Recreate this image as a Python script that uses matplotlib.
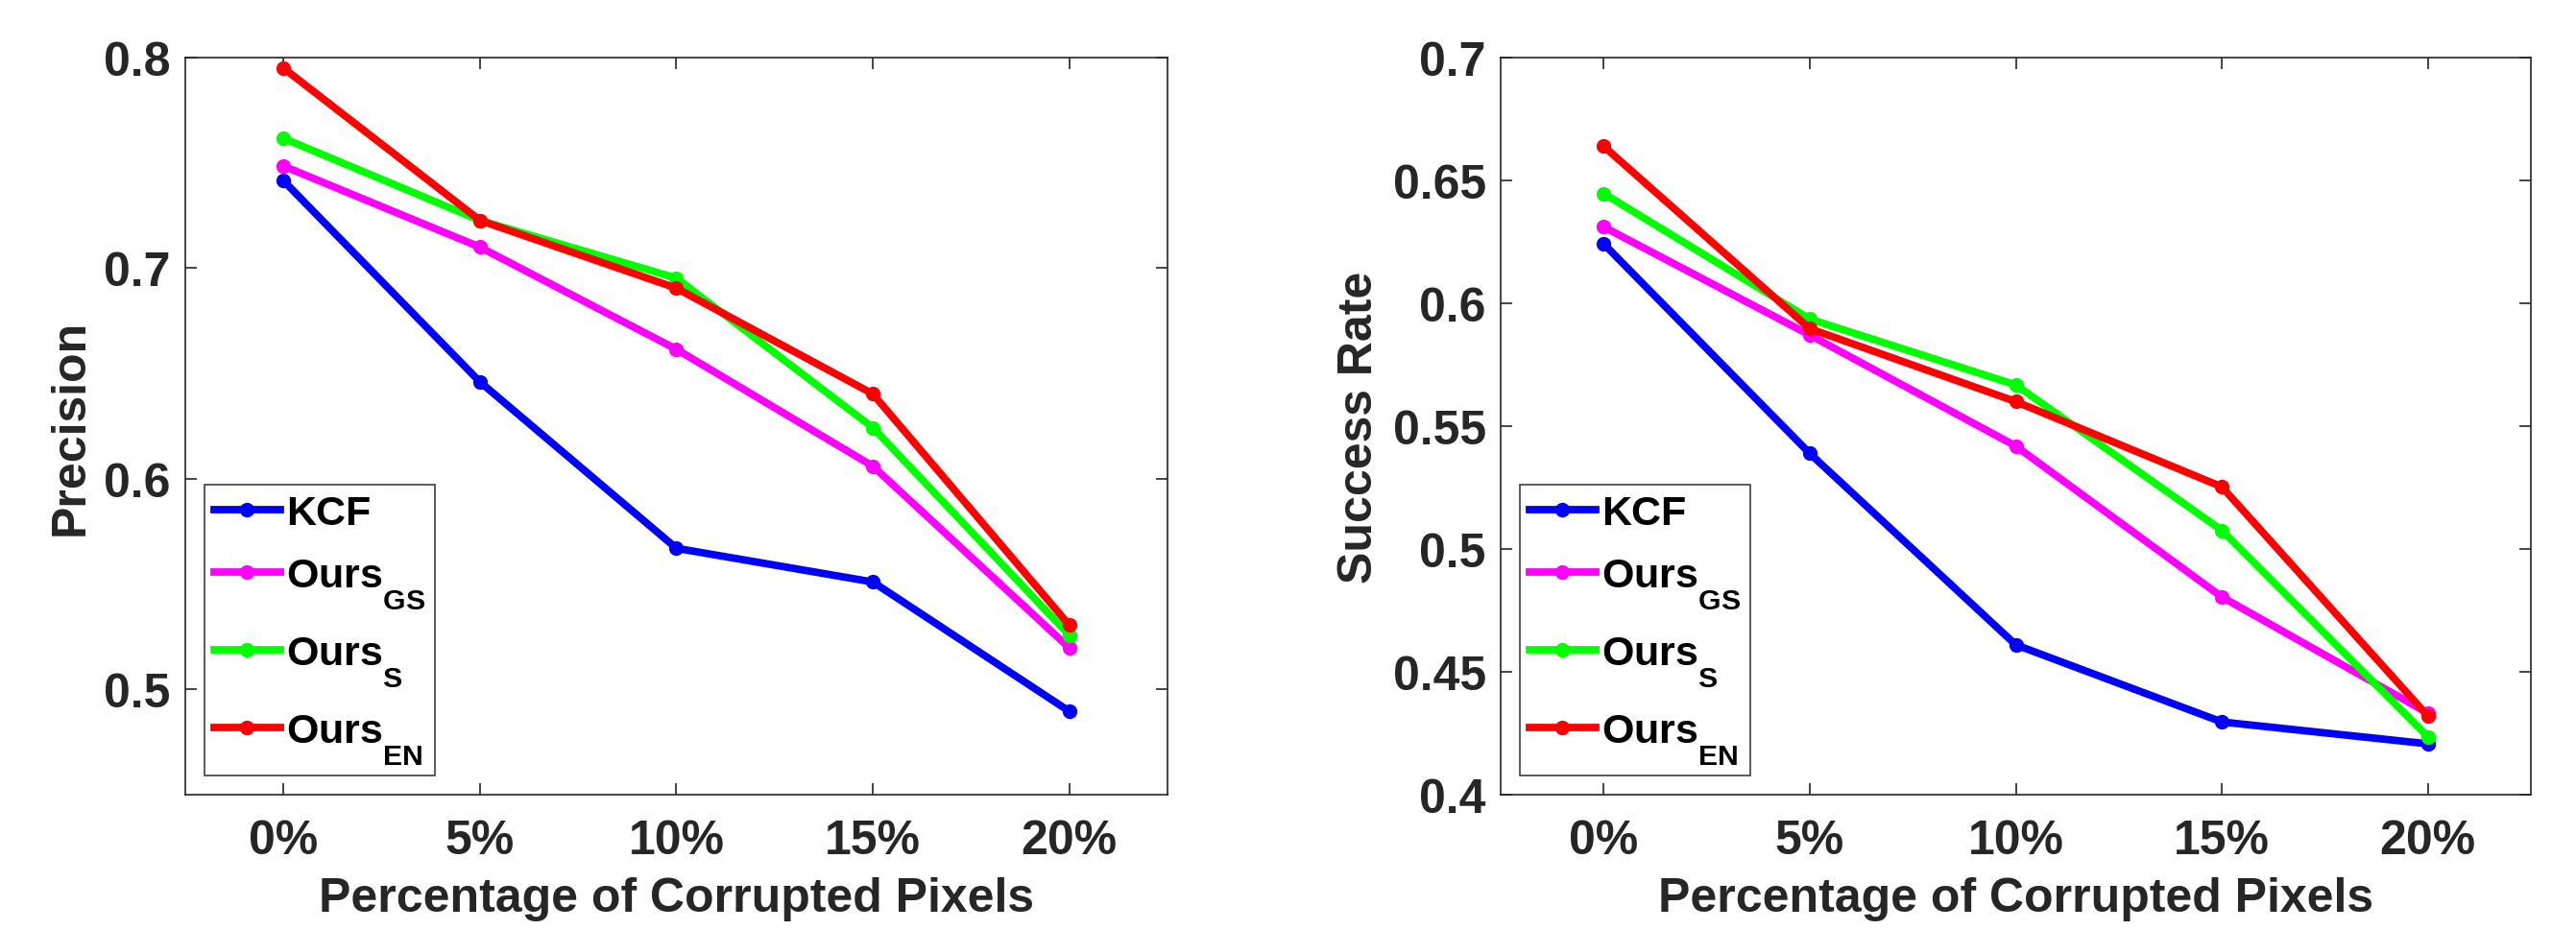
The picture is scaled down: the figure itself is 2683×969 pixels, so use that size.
import matplotlib
matplotlib.use("Agg")
import matplotlib.pyplot as plt

plt.rcParams['font.family'] = ['Liberation Sans', 'DejaVu Sans']
plt.rcParams['font.weight'] = 'bold'
plt.rcParams['mathtext.fontset'] = 'custom'
plt.rcParams['mathtext.rm'] = 'Liberation Sans:bold'
plt.rcParams['mathtext.it'] = 'Liberation Sans:bold'
plt.rcParams['mathtext.bf'] = 'Liberation Sans:bold'

# push subscripts lower (whole subscript below the baseline)
try:
    from matplotlib import _mathtext

    class LowSub(_mathtext.FontConstantsBase):
        sub1 = 1.0

    for fam in ('Liberation Sans', 'DejaVu Sans'):
        _mathtext._font_constant_mapping[fam] = LowSub
except Exception:
    pass

# corruption levels on the x axis
levels = ['0%', '5%', '10%', '15%', '20%']
methods = ['KCF', r'Ours$_{\mathbf{GS}}$', r'Ours$_{\mathbf{S}}$', r'Ours$_{\mathbf{EN}}$']
colors = ['#0000ff', '#ff00ff', '#00ff00', '#ff0000']

# precision per method
prec_kcf = [0.7415, 0.646, 0.567, 0.551, 0.4896]
prec_gs = [0.7485, 0.710, 0.6615, 0.606, 0.5197]
prec_s = [0.7617, 0.7227, 0.6953, 0.6243, 0.5257]
prec_en = [0.795, 0.7227, 0.6905, 0.6403, 0.5305]

# success rate per method
succ_kcf = [0.6242, 0.5389, 0.461, 0.4296, 0.4207]
succ_gs = [0.6311, 0.5871, 0.5419, 0.4805, 0.4332]
succ_s = [0.6447, 0.5936, 0.5668, 0.5076, 0.4236]
succ_en = [0.6639, 0.5897, 0.560, 0.5253, 0.432]

W, H = 2683, 970
fig = plt.figure(figsize=(W / 200, H / 200), dpi=200)
ax1 = fig.add_axes([193 / W, 141 / H, 1023 / W, 768 / H])
ax2 = fig.add_axes([1563 / W, 141 / H, 1073 / W, 768 / H])

txt = '#262626'
x = list(range(len(levels)))


def draw(ax, series, ylim, yticks, ylabel, legend_x):
    for vals, name, c in zip(series, methods, colors):
        ax.plot(x, vals, color=c, lw=2.8, marker='o', ms=4.5, label=name)
    ax.set_xlim(-0.5, 4.5)
    ax.set_ylim(*ylim)
    ax.set_xticks(x)
    ax.set_xticklabels(levels)
    ax.set_yticks(yticks)
    ax.set_yticklabels([('%g' % t) for t in yticks])
    ax.tick_params(direction='in', length=4.3, width=0.6, top=True, right=True,
                   labelsize=18, colors=txt)
    ax.tick_params(axis='x', pad=9)
    ax.tick_params(axis='y', pad=5.5)
    for s in ax.spines.values():
        s.set_linewidth(0.6)
        s.set_color(txt)
    ax.set_xlabel('Percentage of Corrupted Pixels', fontsize=18, fontweight='bold',
                  color=txt, labelpad=5)
    ax.set_ylabel(ylabel, fontsize=18, fontweight='bold', color=txt, labelpad=4)
    leg = ax.legend(loc='lower left', bbox_to_anchor=(legend_x, 0.026),
                    borderaxespad=0, fontsize=15.5, handlelength=1.6,
                    handletextpad=0.15, labelspacing=0.58, borderpad=0.23,
                    fancybox=False, framealpha=1)
    leg.get_frame().set_edgecolor('#404040')
    leg.get_frame().set_linewidth(0.6)


draw(ax1, [prec_kcf, prec_gs, prec_s, prec_en], (0.45, 0.8),
     [0.5, 0.6, 0.7, 0.8], 'Precision', 0.0196)
draw(ax2, [succ_kcf, succ_gs, succ_s, succ_en], (0.4, 0.7),
     [0.4, 0.45, 0.5, 0.55, 0.6, 0.65, 0.7], 'Success Rate', 0.0186)

fig.savefig('out.png', dpi=200)
